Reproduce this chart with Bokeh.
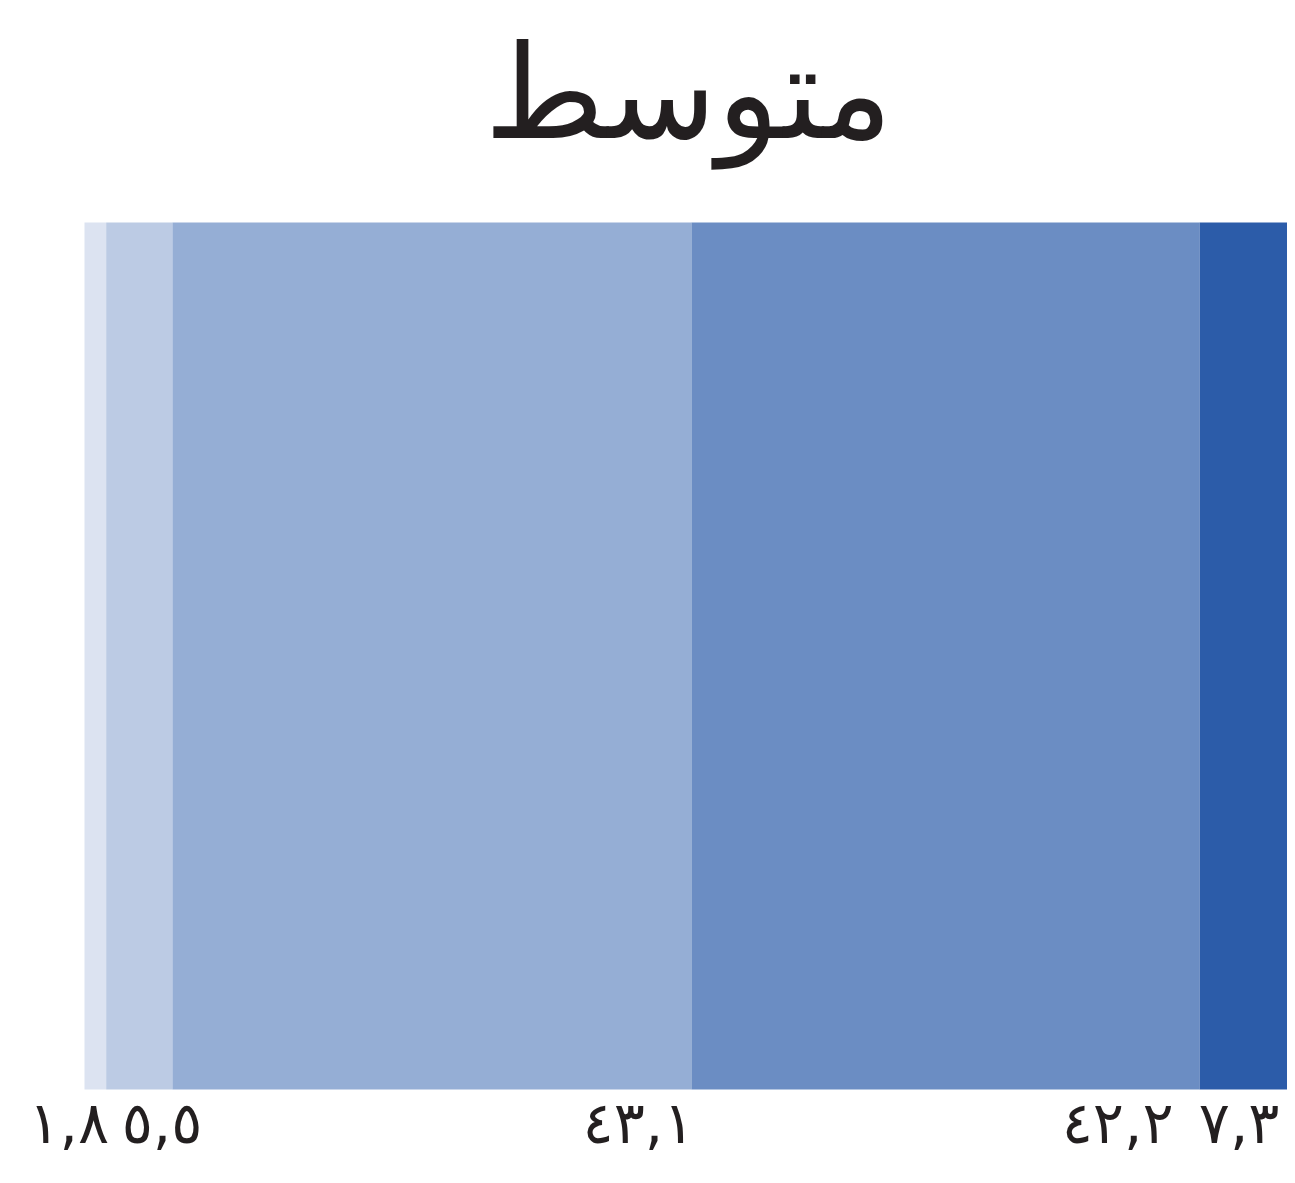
from bokeh.plotting import figure
from bokeh.models import ColumnDataSource, Range1d, Label
from bokeh.embed import file_html
from bokeh.resources import INLINE
from bokeh.core.properties import value

# data
title_text = "متوسط"
values = [1.8, 5.5, 43.1, 42.2, 7.3]
labels = ["١,٨", "٥,٥", "٤٣,١", "٤٢,٢", "٧,٣"]
colors = ["#dce3f1", "#bccbe4", "#95aed5", "#6b8dc3", "#2c5ca9"]
label_dx = [3, 30, 3, -26, -8]

starts = []
ends = []
acc = 0.0
for v in values:
    starts.append(acc)
    acc += v
    ends.append(acc)
total = acc

W, H = 1287, 1175
bar_left_px, bar_right_px = 84, 1287
bar_top_px, bar_bot_px = 222, 1089  # from top
xs = (bar_right_px - bar_left_px) / total
x_start = -bar_left_px / xs
x_end = total + (W - bar_right_px) / xs
ys = bar_bot_px - bar_top_px
y_start = -(H - bar_bot_px) / ys
y_end = 1 + bar_top_px / ys

p = figure(width=W, height=H, output_backend="svg", toolbar_location=None,
           x_range=Range1d(x_start, x_end), y_range=Range1d(y_start, y_end),
           min_border=0)
p.axis.visible = False
p.grid.visible = False
p.outline_line_color = None
p.background_fill_color = "white"
p.border_fill_color = "white"

src = ColumnDataSource(dict(left=starts, right=ends, bottom=[0] * 5, top=[1] * 5,
                            color=colors, label=labels, dx=label_dx))
p.quad(left="left", right="right", bottom="bottom", top="top", color="color",
       line_color=None, source=src)

p.text(x="right", y="bottom", text="label", x_offset="dx", y_offset=33,
       text_align="right", text_baseline="alphabetic", text_font=value("DejaVu Sans"),
       text_font_size="58px", text_color="#231f20", source=src)

p.add_layout(Label(x=688, y=H - 92, x_units="screen", y_units="screen", text=title_text,
                   text_align="center", text_baseline="alphabetic",
                   text_font="DejaVu Sans", text_font_size="130px",
                   text_color="#231f20"))

open("out.html", "w").write(file_html(p, INLINE))
